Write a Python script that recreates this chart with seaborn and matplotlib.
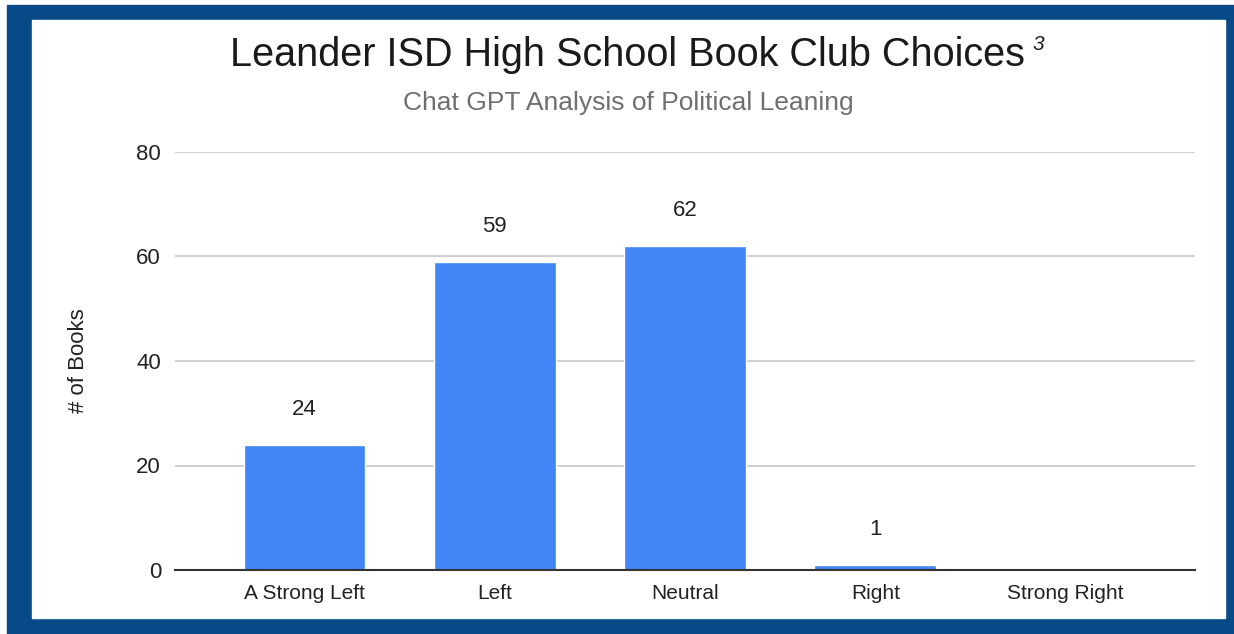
import matplotlib
matplotlib.use("Agg")
import matplotlib.pyplot as plt
import seaborn as sns
from matplotlib.patches import Rectangle

categories = ["A Strong Left", "Left", "Neutral", "Right", "Strong Right"]
counts = [24, 59, 62, 1, 0]
y_ticks = [0, 20, 40, 60, 80]

sns.set_theme(style="white")
plt.rcParams["font.family"] = ["Liberation Sans", "DejaVu Sans"]

fig = plt.figure(figsize=(12.34, 6.34), dpi=100)

# dark blue frame around the chart
W, H = 1234, 634
fig.patches.append(Rectangle((7 / W, 0), (W - 7) / W, (H - 5) / H,
                             transform=fig.transFigure, color="#084a88", zorder=-2))
fig.patches.append(Rectangle((32 / W, 16 / H), 1193 / W, 598 / H,
                             transform=fig.transFigure, color="white", zorder=-1))

ax = fig.add_axes([175 / W, 1 - 570 / H, 1020 / W, 418 / H])
ax.set_facecolor("none")

sns.barplot(x=categories, y=counts, color="#4285F4", saturation=1, width=0.64, ax=ax, zorder=3)

ax.set_ylim(0, 80)
ax.set_xlim(-0.68, 4.68)
ax.set_yticks(y_ticks)
ax.yaxis.grid(True, color="#cccccc", linewidth=1.3, zorder=0)
ax.set_axisbelow(True)
for s in ["top", "right", "left"]:
    ax.spines[s].set_visible(False)
ax.spines["bottom"].set_color("#333333")
ax.spines["bottom"].set_linewidth(1.5)
ax.spines["bottom"].set_zorder(4)
ax.tick_params(axis="y", length=0, pad=10, labelsize=16, labelcolor="#222222")
ax.tick_params(axis="x", length=0, pad=10, labelsize=15, labelcolor="#222222")

ax.set_xlabel("")
ax.set_ylabel("# of Books", fontsize=16, color="#222222", labelpad=34)

labels = [str(v) if v > 0 else "" for v in counts]
ax.bar_label(ax.containers[0], labels=labels, padding=18, fontsize=16, color="#222222")

fig.text(627 / W, 1 - 55 / H, "Leander ISD High School Book Club Choices",
         ha="center", va="center", fontsize=28.5, color="#1a1a1a")
fig.text(1033 / W, 1 - 45 / H, "3", ha="left", va="center", fontsize=15,
         style="italic", color="#1a1a1a")
fig.text(628 / W, 1 - 103 / H, "Chat GPT Analysis of Political Leaning",
         ha="center", va="center", fontsize=19, color="#6f6f6f")

fig.savefig("out.png", dpi=100)
